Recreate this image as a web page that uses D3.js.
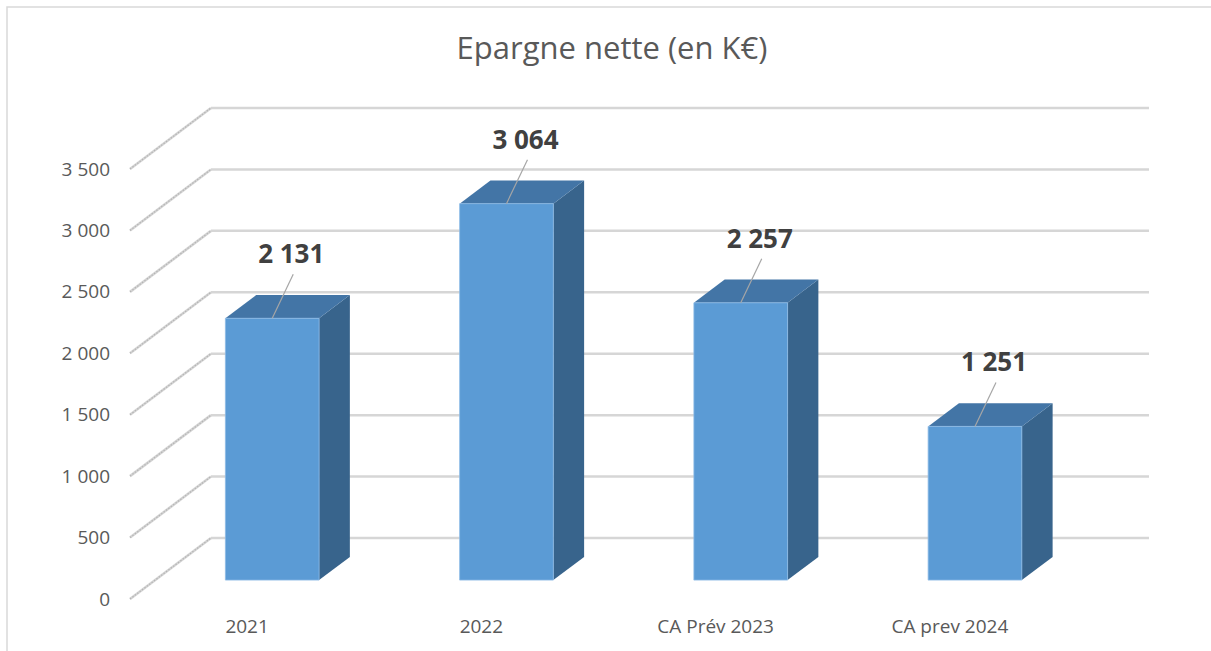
<!DOCTYPE html>
<html>
<head>
<meta charset="utf-8">
<style>
    body { margin: 0; background: #fff; }
    svg { display: block; font-family: "Open Sans", "Noto Sans", sans-serif; }
    .axis { font-family: "Open Sans", "Noto Sans", sans-serif; }
    .tick text { fill: #595959; font-size: 19px; }
    .domain { display: none; }
    .title { fill: #595959; font-size: 31px; }
    .val-label { fill: #404040; font-size: 26px; font-weight: bold; }
</style>
</head>
<body>
<svg width="1211" height="651"></svg>

<script src="https://d3js.org/d3.v7.min.js"></script>
<script>
// chart data
const categories = ["2021", "2022", "CA Prév 2023", "CA prev 2024"];
const values = [2131, 3064, 2257, 1251];
const yTicks = [0, 500, 1000, 1500, 2000, 2500, 3000, 3500];

const svg = d3.select("svg");

// 3d-ish projection: front plane + depth vector toward the back wall
const depthX = 81, depthY = -61;
const barD0 = 0.31, barD1 = 0.69;   // bar sits in the middle of the depth

const x = d3.scaleBand().domain(categories).range([130, 1067]).padding(0);
const y = d3.scaleLinear().domain([0, 3500]).range([599, 169]);

const fr = d3.formatLocale({ decimal: ",", thousands: " ", grouping: [3], currency: ["", "€"] });
const fmt = fr.format(",d");

function pt(px, v, d) {
    return [px + d * depthX, y(v) + d * depthY];
}

// outer frame
svg.append("rect")
    .attr("x", 7).attr("y", 7)
    .attr("width", 1300).attr("height", 700)
    .attr("fill", "none")
    .attr("stroke", "#d9d9d9")
    .attr("stroke-width", 1.5);

// back wall gridlines
svg.append("g")
    .selectAll("line")
    .data(yTicks)
    .join("line")
    .attr("x1", 130 + depthX)
    .attr("x2", 1067 + depthX + 1)
    .attr("y1", d => y(d) + depthY)
    .attr("y2", d => y(d) + depthY)
    .attr("stroke", "#d6d6d6")
    .attr("stroke-width", 2.5);

// side wall diagonals (textured look)
const diag = svg.append("g");
diag.selectAll("line.a")
    .data(yTicks)
    .join("line")
    .attr("class", "a")
    .attr("x1", 130)
    .attr("y1", d => y(d))
    .attr("x2", 130 + depthX)
    .attr("y2", d => y(d) + depthY)
    .attr("stroke", "#d4d4d4")
    .attr("stroke-width", 2.6);
diag.selectAll("line.b")
    .data(yTicks)
    .join("line")
    .attr("class", "b")
    .attr("x1", 130)
    .attr("y1", d => y(d))
    .attr("x2", 130 + depthX)
    .attr("y2", d => y(d) + depthY)
    .attr("stroke", "#b5b5b5")
    .attr("stroke-width", 1.2)
    .attr("stroke-dasharray", "1.5 1.5");

// y axis labels
svg.append("g")
    .attr("class", "y axis")
    .attr("transform", "translate(130,0)")
    .call(d3.axisLeft(y).tickValues(yTicks).tickSize(0).tickPadding(20).tickFormat(fmt));

// category labels
svg.append("g")
    .attr("class", "x axis")
    .attr("transform", "translate(0,599)")
    .call(d3.axisBottom(x).tickSize(0).tickPadding(21));

// bars
const bars = svg.append("g")
    .selectAll("g")
    .data(categories.map((c, i) => ({ cat: c, val: values[i] })))
    .join("g");

function face(pts) {
    return "M" + pts.map(p => p.join(",")).join("L") + "Z";
}

bars.each(function (d) {
    const g = d3.select(this);
    const bw = x.bandwidth() * 0.4;
    const cx = x(d.cat) + x.bandwidth() / 2;
    const l = cx - bw / 2, r = cx + bw / 2;

    // right side
    g.append("path")
        .attr("d", face([pt(r, 0, barD0), pt(r, 0, barD1), pt(r, d.val, barD1), pt(r, d.val, barD0)]))
        .attr("fill", "#38648c");
    // top
    g.append("path")
        .attr("d", face([pt(l, d.val, barD0), pt(r, d.val, barD0), pt(r, d.val, barD1), pt(l, d.val, barD1)]))
        .attr("fill", "#4375a6");
    // front
    g.append("path")
        .attr("d", face([pt(l, 0, barD0), pt(r, 0, barD0), pt(r, d.val, barD0), pt(l, d.val, barD0)]))
        .attr("fill", "#5b9bd5")
        .attr("stroke", "#8dbbe6")
        .attr("stroke-width", 0.8);

    // data label with leader line
    const top = pt(cx, d.val, barD0);
    const lx = top[0] + 19, ly = top[1] - 55;
    g.append("line")
        .attr("x1", lx + 2).attr("y1", ly + 11)
        .attr("x2", top[0]).attr("y2", top[1])
        .attr("stroke", "#a6a6a6")
        .attr("stroke-width", 1.2);
    g.append("text")
        .attr("class", "val-label")
        .attr("x", lx).attr("y", ly)
        .attr("text-anchor", "middle")
        .text(fmt(d.val));
});

// title
svg.append("text")
    .attr("class", "title")
    .attr("x", 612)
    .attr("y", 59)
    .attr("text-anchor", "middle")
    .text("Epargne nette (en K€)");
</script>
</body>
</html>
